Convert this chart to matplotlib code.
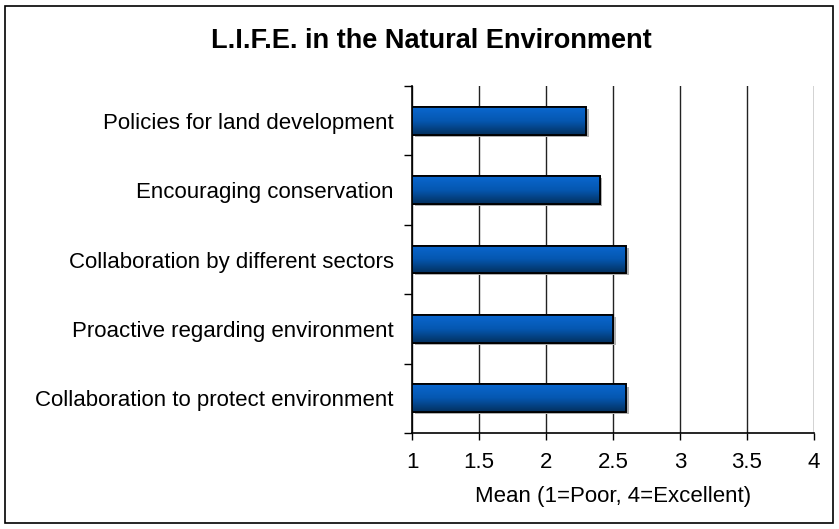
import numpy as np
import matplotlib.pyplot as plt
from matplotlib.patches import Rectangle
from matplotlib.colors import LinearSegmentedColormap

plt.rcParams['font.family'] = ['Liberation Sans', 'DejaVu Sans']

categories = ['Policies for land development', 'Encouraging conservation',
              'Collaboration by different sectors', 'Proactive regarding environment',
              'Collaboration to protect environment']
means = [2.3, 2.4, 2.6, 2.5, 2.6]
xticks = [1, 1.5, 2, 2.5, 3, 3.5, 4]

fig = plt.figure(figsize=(8.39, 5.29), dpi=100)
ax = fig.add_axes([412 / 839, 1 - 433 / 529, 402 / 839, 347 / 529])

# outer chart frame
fig.patches.append(Rectangle((5 / 839, 6 / 529), 828 / 839, 517 / 529, transform=fig.transFigure,
                             fill=False, edgecolor='black', linewidth=1.2))

y = np.arange(len(categories))
ax.set_xlim(1, 4)
ax.set_ylim(len(categories) - 0.5, -0.5)

# gradient image for bars
grad = np.linspace(0, 1, 100).reshape(-1, 1)
cmap = LinearSegmentedColormap.from_list('barblue', ['#0a67cf', '#0557b0', '#03305e'])

bars = ax.barh(y, np.array(means) - 1, left=1, height=0.4, color='#0557b0',
               edgecolor='black', linewidth=1.3, zorder=3)
for b in bars:
    # light shadow
    ax.add_patch(Rectangle((b.get_x() + 0.02, b.get_y() + 0.03), b.get_width(), b.get_height(),
                           facecolor='#b0b0b0', edgecolor='none', zorder=2))
    im = ax.imshow(grad, aspect='auto', cmap=cmap, zorder=3.5,
                   extent=(b.get_x(), b.get_x() + b.get_width(),
                           b.get_y() + b.get_height(), b.get_y()))
    im.set_clip_path(b)
    ax.add_patch(Rectangle((b.get_x(), b.get_y()), b.get_width(), b.get_height(),
                           fill=False, edgecolor='black', linewidth=1.3, zorder=4))

ax.set_xticks(xticks)
ax.set_xticklabels([f'{t:g}' for t in xticks], fontsize=16)
ax.set_yticks(np.arange(len(categories) + 1) - 0.5)
ax.set_yticklabels([])
ax.set_yticks(y, minor=True)
ax.set_yticklabels(categories, minor=True, fontsize=16)
ax.tick_params(axis='y', which='minor', length=0, pad=13)
ax.tick_params(axis='y', which='major', length=6, width=1)
ax.tick_params(axis='x', length=5, width=1, pad=9)

ax.grid(axis='x', color='#222222', linewidth=1, zorder=0)
ax.set_axisbelow(True)
for s in ['top', 'right']:
    ax.spines[s].set_visible(False)
ax.spines['left'].set_linewidth(1.2)
ax.spines['bottom'].set_linewidth(1.2)

ax.set_xlabel('Mean (1=Poor, 4=Excellent)', fontsize=16, labelpad=9)
fig.text(431 / 839, 1 - 41 / 529, 'L.I.F.E. in the Natural Environment',
         ha='center', va='center', fontsize=19.5, fontweight='bold')

fig.savefig('out.png', dpi=100)
